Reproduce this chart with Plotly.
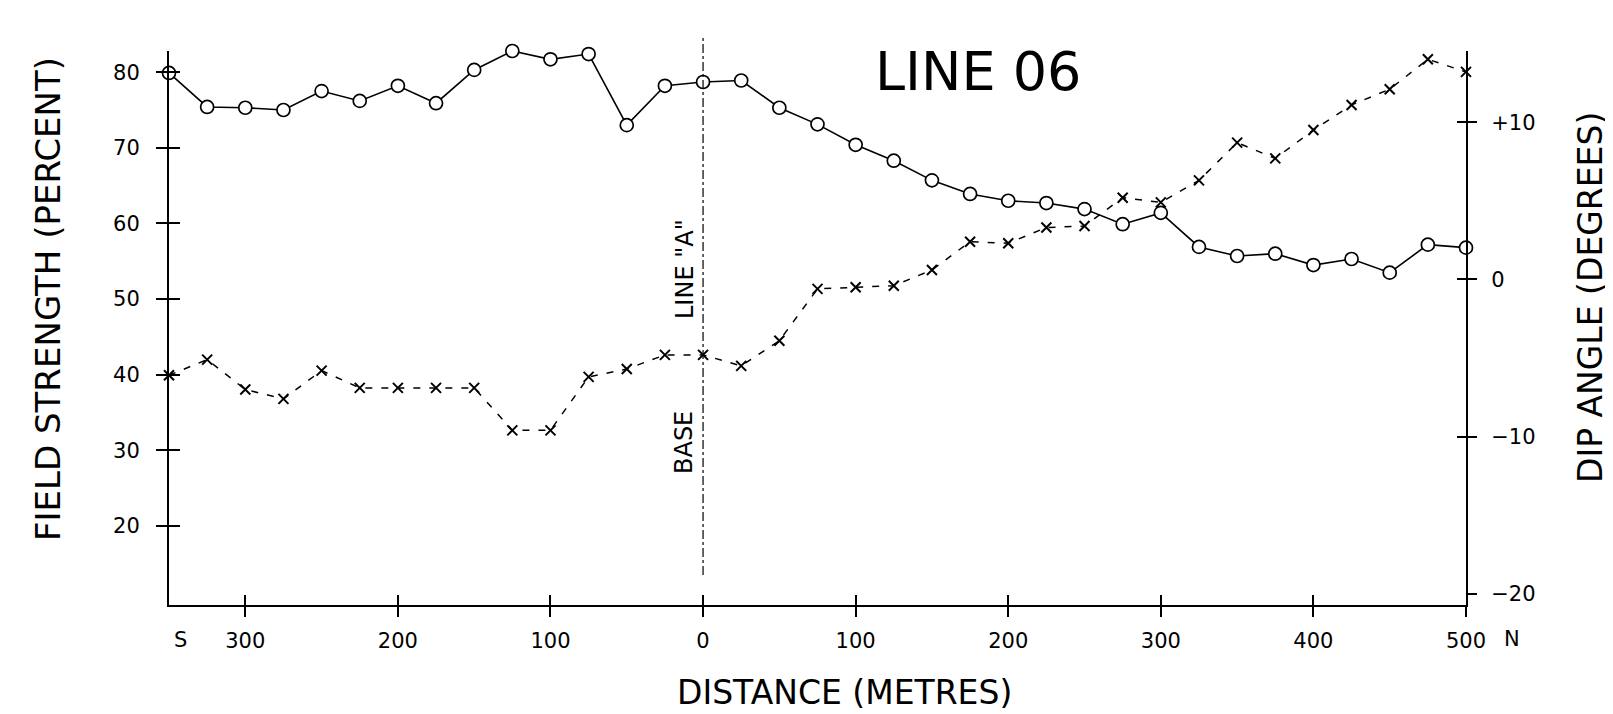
import plotly.graph_objects as go

# ---- data ----
distance = [-350, -325, -300, -275, -250, -225, -200, -175, -150, -125, -100, -75, -50, -25,
            0, 25, 50, 75, 100, 125, 150, 175, 200, 225, 250, 275, 300, 325, 350, 375, 400,
            425, 450, 475, 500]
field_strength = [79.9, 75.4, 75.3, 75.0, 77.5, 76.2, 78.2, 75.9, 80.3, 82.8, 81.7, 82.4, 73.0,
                  78.2, 78.7, 78.9, 75.3, 73.1, 70.4, 68.3, 65.7, 63.9, 63.0, 62.7, 61.9, 59.9,
                  61.4, 56.9, 55.7, 56.0, 54.5, 55.3, 53.5, 57.2, 56.8]
dip_angle = [-6.1, -5.1, -7.0, -7.6, -5.8, -6.9, -6.9, -6.9, -6.9, -9.6, -9.6, -6.2, -5.7, -4.8,
             -4.8, -5.5, -3.9, -0.6, -0.5, -0.4, 0.6, 2.4, 2.3, 3.3, 3.4, 5.2, 4.9, 6.3, 8.7,
             7.7, 9.5, 11.1, 12.1, 14.0, 13.2]

x_tickvals = [-300, -200, -100, 0, 100, 200, 300, 400, 500]
x_ticktext = ["300", "200", "100", "0", "100", "200", "300", "400", "500"]
left_tickvals = [20, 30, 40, 50, 60, 70, 80]
right_tickvals = [-20, -10, 0, 10]
right_ticktext = ["\u221220", "\u221210", "0", "+10"]

# ---- layout geometry ----
W, H = 1613, 714
ML, MR, MT, MB = 161, 155, 43, 117
PW, PH = W - ML - MR, H - MT - MB
x_range = [-350, 500]
left_range = [9.56, 82.80]
right_range = [-20.71, 14.53]

def px(xp):
    return (xp - ML) / PW

def py(yp):
    return (H - MB - yp) / PH

FONT = "DejaVu Sans"
ink = "#000000"

fig = go.Figure()

fig.add_trace(go.Scatter(
    x=distance, y=dip_angle, yaxis="y2", mode="lines+markers",
    line=dict(color=ink, width=1.5, dash="7px,9px"),
    marker=dict(symbol="x-thin", size=10, line=dict(color=ink, width=2)),
    cliponaxis=False, showlegend=False))

fig.add_trace(go.Scatter(
    x=distance, y=field_strength, yaxis="y", mode="lines+markers",
    line=dict(color=ink, width=1.6),
    marker=dict(symbol="circle", size=13, color="white", line=dict(color=ink, width=1.7)),
    cliponaxis=False, showlegend=False))

# empty traces so the overlay (tick) axes are drawn
fig.add_trace(go.Scatter(x=[], y=[], xaxis="x2", yaxis="y3", showlegend=False))
fig.add_trace(go.Scatter(x=[], y=[], xaxis="x2", yaxis="y4", showlegend=False))

tickfont = dict(family=FONT, size=21, color=ink)

fig.update_layout(
    width=W, height=H,
    margin=dict(l=ML, r=MR, t=MT, b=MB, pad=0),
    paper_bgcolor="white", plot_bgcolor="white",
    xaxis=dict(range=x_range, tickvals=x_tickvals, ticktext=x_ticktext,
               ticks="outside", ticklen=10, tickwidth=1.5, tickcolor=ink,
               showline=True, linewidth=2, linecolor=ink, showgrid=False, zeroline=False,
               tickfont=tickfont, ticklabelstandoff=6, automargin=False),
    xaxis2=dict(range=x_range, overlaying="x", anchor="y", side="bottom",
                tickvals=x_tickvals, ticks="inside", ticklen=10, tickwidth=1.5, tickcolor=ink,
                showticklabels=False, showline=False, showgrid=False, zeroline=False),
    yaxis=dict(range=left_range, tickvals=left_tickvals, ticks="outside", ticklen=11,
               tickwidth=1.5, tickcolor=ink, showline=True, linewidth=2, linecolor=ink,
               showgrid=False, zeroline=False, tickfont=tickfont, ticklabelstandoff=12,
               automargin=False),
    yaxis3=dict(range=left_range, overlaying="y", side="left", anchor="x",
                tickvals=left_tickvals, ticks="inside", ticklen=11, tickwidth=1.5, tickcolor=ink,
                showticklabels=False, showline=False, showgrid=False, zeroline=False),
    yaxis2=dict(range=right_range, overlaying="y", side="right", anchor="x",
                tickvals=right_tickvals, ticktext=right_ticktext, ticks="outside", ticklen=9,
                tickwidth=1.5, tickcolor=ink, showline=True, linewidth=2, linecolor=ink,
                showgrid=False, zeroline=False, tickfont=tickfont, ticklabelstandoff=10,
                automargin=False),
    yaxis4=dict(range=right_range, overlaying="y", side="right", anchor="x",
                tickvals=right_tickvals[1:], ticks="inside", ticklen=9, tickwidth=1.5,
                tickcolor=ink, showticklabels=False, showline=False, showgrid=False,
                zeroline=False),
)

# base line "A"
fig.add_shape(type="line", xref="x", yref="paper", x0=0, x1=0, y0=py(567), y1=py(28),
              line=dict(color=ink, width=1.2, dash="dashdot"))

ann = []
def add_text(text, xp, yp, size, angle=0):
    ann.append(dict(text=text, x=px(xp), y=py(yp), xref="paper", yref="paper",
                    showarrow=False, textangle=angle, xanchor="center", yanchor="middle",
                    font=dict(family=FONT, size=size, color=ink)))

add_text("LINE 06", 970, 64, 54)
add_text("FIELD STRENGTH (PERCENT)", 40, 291, 34, angle=-90)
add_text("DIP ANGLE (DEGREES)", 1582, 290, 33, angle=-90)
add_text("DISTANCE (METRES)", 836, 684, 33)
add_text("LINE \"A\"", 677, 261, 24, angle=-90)
add_text("BASE", 676, 435, 24, angle=-90)
add_text("S", 172, 632, 21)
add_text("N", 1504, 631, 21)

fig.update_layout(annotations=ann)

fig.write_html("out.html")
